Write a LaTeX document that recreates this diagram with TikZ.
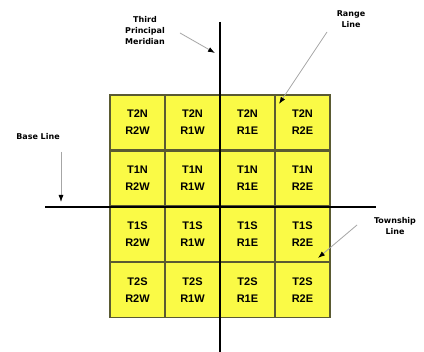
\documentclass[tikz,border=0pt]{standalone}
\usepackage{fontspec}
\setmainfont{Liberation Sans}
\newfontfamily\lblfont{DejaVu Sans}
\usetikzlibrary{arrows.meta}
\definecolor{cellyel}{RGB}{250,250,70}
\definecolor{cellbd}{RGB}{90,90,50}
\tikzset{
  cell/.style={draw=cellbd, line width=1.2pt, fill=cellyel, minimum width=55pt, minimum height=55pt, inner sep=0pt, align=center, font=\fontsize{11}{17}\selectfont\bfseries},
  lbl/.style={align=center, font=\lblfont\fontsize{8}{11}\selectfont\bfseries, inner sep=1pt},
  mainline/.style={line width=2.4pt, black},
  ptr/.style={draw=gray!70, line width=0.8pt, -{Latex[length=7pt,width=5pt,color=black]}}
}
\begin{document}
\begin{tikzpicture}[x=1pt,y=-1pt]
\useasboundingbox (0,0) rectangle (424,352);
\fill[white] (0,0) rectangle (424,352);
% cells
\node[cell] (c11) at (137.5,122.5) {T2N\\R2W};
\node[cell] (c12) at (192.5,122.5) {T2N\\R1W};
\node[cell] (c13) at (247.5,122.5) {T2N\\R1E};
\node[cell] (c14) at (302.5,122.5) {T2N\\R2E};
\node[cell] (c21) at (137.5,178.5) {T1N\\R2W};
\node[cell] (c22) at (192.5,178.5) {T1N\\R1W};
\node[cell] (c23) at (247.5,178.5) {T1N\\R1E};
\node[cell] (c24) at (302.5,178.5) {T1N\\R2E};
\node[cell] (c31) at (137.5,234.5) {T1S\\R2W};
\node[cell] (c32) at (192.5,234.5) {T1S\\R1W};
\node[cell] (c33) at (247.5,234.5) {T1S\\R1E};
\node[cell] (c34) at (302.5,234.5) {T1S\\R2E};
\node[cell] (c41) at (137.5,290) {T2S\\R2W};
\node[cell] (c42) at (192.5,290) {T2S\\R1W};
\node[cell] (c43) at (247.5,290) {T2S\\R1E};
\node[cell] (c44) at (302.5,290) {T2S\\R2E};
% main lines
\coordinate (mtop) at (220,22);
\coordinate (mbot) at (220,352);
\coordinate (bl) at (45,207);
\coordinate (br) at (376,207);
\draw[mainline] (mtop) -- (mbot);
\draw[mainline] (bl) -- (br);
% labels
\node[lbl] (tpm) at (145,31) {Third\\Principal\\Meridian};
\node[lbl] (bline) at (38,137) {Base Line};
\node[lbl] (rline) at (351,19) {Range\\Line};
\node[lbl] (tline) at (395,226) {Township\\Line};
% pointers
\coordinate (tpmstart) at (180,33);
\coordinate (tpmend) at (215,53);
\coordinate (blstart) at (61,152);
\coordinate (blend) at (61,202);
\coordinate (rlstart) at (327,32);
\coordinate (rlend) at (279,104);
\coordinate (tlstart) at (357,225);
\coordinate (tlend) at (318,258);
\draw[ptr] (tpmstart) -- (tpmend);
\draw[ptr] (blstart) -- (blend);
\draw[ptr] (rlstart) -- (rlend);
\draw[ptr] (tlstart) -- (tlend);
\end{tikzpicture}
\end{document}
